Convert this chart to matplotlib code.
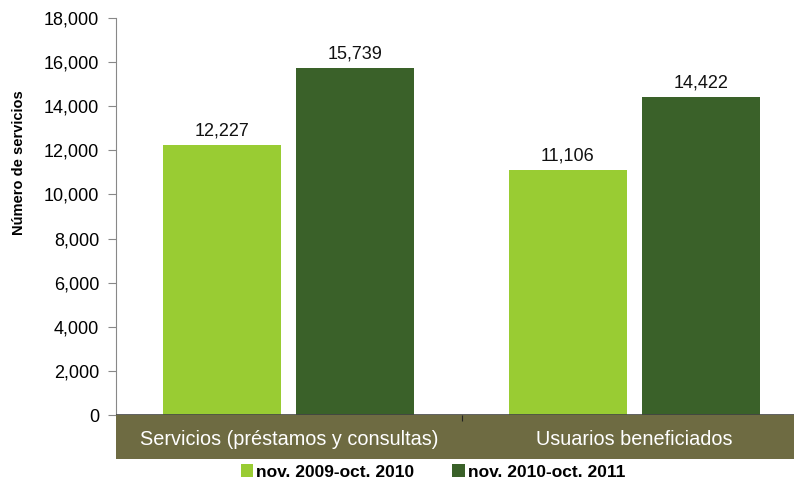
import matplotlib
matplotlib.use('Agg')
import matplotlib.pyplot as plt
import numpy as np

# datos
categorias = ['Servicios (préstamos y consultas)', 'Usuarios beneficiados']
series = ['nov. 2009-oct. 2010', 'nov. 2010-oct. 2011']
valores_2010 = [12227, 11106]
valores_2011 = [15739, 14422]
yticks = [0, 2000, 4000, 6000, 8000, 10000, 12000, 14000, 16000, 18000]

colores = ['#99CC33', '#3A6129']
color_banda = '#6E6B42'

plt.rcParams['font.family'] = ['Liberation Sans', 'DejaVu Sans']

W, H = 794, 483
fig = plt.figure(figsize=(W / 100, H / 100), dpi=100)

# eje principal (se extiende un poco fuera de la figura, como el original)
x0, x1 = 116, 807
ax = fig.add_axes([x0 / W, (H - 415) / H, (x1 - x0) / W, 397 / H])
banda = fig.add_axes([x0 / W, (H - 459) / H, (x1 - x0) / W, 44 / H])

x = np.arange(len(categorias))
ancho = 0.342
off = 0.192
for i, (vals, lbl) in enumerate(zip([valores_2010, valores_2011], series)):
    pos = x + (-off if i == 0 else off)
    bars = ax.bar(pos, vals, width=ancho, color=colores[i], label=lbl, zorder=2)
    for b, v in zip(bars, vals):
        ax.annotate(f'{v:,}', (b.get_x() + b.get_width() / 2, v),
                    xytext=(0, 4), textcoords='offset points',
                    ha='center', va='bottom', fontsize=13, color='#111111')

ax.set_xlim(-0.5, len(categorias) - 0.5)
ax.set_ylim(0, 18000)
ax.set_yticks(yticks)
ax.set_yticklabels([f'{t:,}' for t in yticks], fontsize=13)
ax.tick_params(axis='y', direction='out', length=6, color='#888888', pad=6)
ax.set_xticks([])
for s in ['top', 'right', 'bottom']:
    ax.spines[s].set_visible(False)
ax.spines['left'].set_color('#888888')
ax.axhline(0, color='#444444', lw=1.2, zorder=3)

# etiqueta del eje y (desplazada hacia arriba como en el original)
fig.text(19 / W, (H - 163) / H, 'Número de servicios', rotation=90,
         ha='center', va='center', fontsize=10.5, fontweight='bold')

# banda de categorías
banda.set_facecolor(color_banda)
banda.set_xlim(ax.get_xlim())
banda.set_ylim(0, 1)
for s in banda.spines.values():
    s.set_visible(False)
banda.set_xticks([0.5])
banda.set_xticklabels([])
banda.tick_params(axis='x', direction='in', length=4, color='#222222', top=True, bottom=False)
banda.set_yticks([])
for xi, cat in zip(x, categorias):
    banda.text(xi, 0.45, cat, ha='center', va='center', color='white', fontsize=14.3)

fig.legend(loc='center', bbox_to_anchor=(433 / W, (H - 472) / H), ncol=2,
           frameon=False, handlelength=0.7, handleheight=0.7, handletextpad=0.2,
           columnspacing=2.2, prop={'weight': 'bold', 'size': 12.5})

fig.savefig('out.png', dpi=100)
